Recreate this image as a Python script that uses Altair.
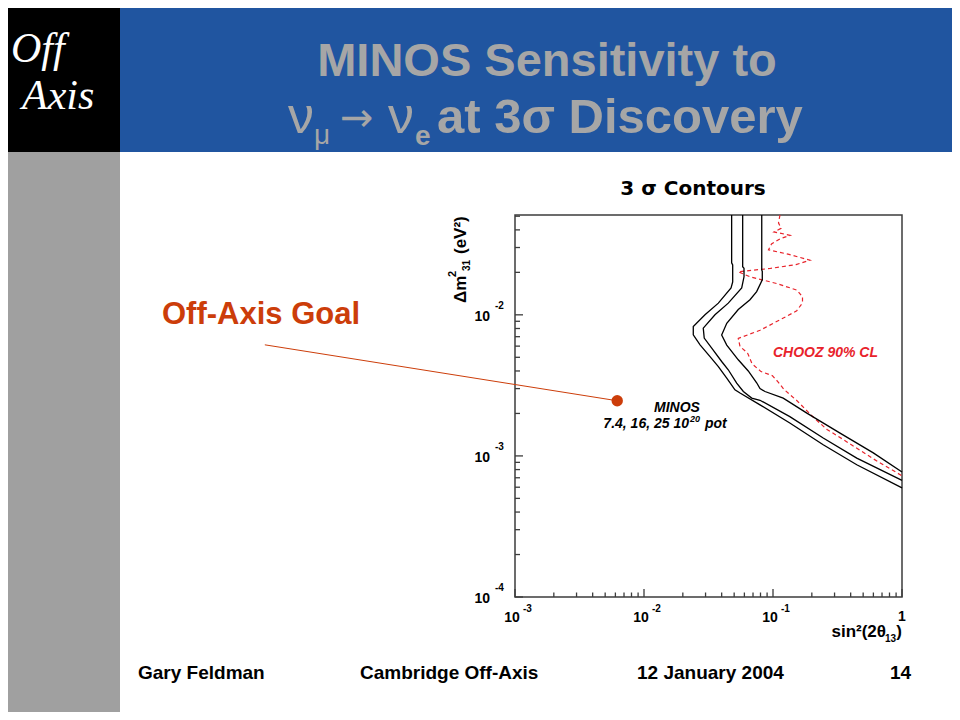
import altair as alt
import pandas as pd

# ---------------- data ----------------
# MINOS 3-sigma discovery contours: sin^2(2 theta13) vs dm^2_31 (eV^2)
c25_x = [0.0478, 0.0478, 0.0487, 0.0487, 0.0473, 0.0377, 0.0297, 0.0241, 0.0241, 0.0272,
         0.0325, 0.0377, 0.0438, 0.0507, 0.0555, 0.0793, 0.135, 0.245, 0.446, 1.0]
c25_y = [0.051, 0.0234, 0.0226, 0.0171, 0.0155, 0.0121, 0.0100, 0.00826, 0.00721, 0.00613,
         0.00506, 0.0043, 0.00356, 0.00294, 0.00279, 0.0023, 0.00171, 0.0012, 0.000865, 0.000594]

c16_x = [0.0582, 0.0582, 0.0596, 0.0596, 0.0572, 0.0450, 0.0355, 0.0288, 0.0293, 0.0335,
         0.0400, 0.0450, 0.0523, 0.0589, 0.0684, 0.0793, 0.135, 0.245, 0.446, 1.0]
c16_y = [0.051, 0.0219, 0.0214, 0.0186, 0.0155, 0.0121, 0.0100, 0.00805, 0.00684, 0.00581,
         0.00467, 0.00408, 0.00328, 0.00286, 0.00257, 0.00248, 0.0019, 0.00134, 0.000965, 0.00067]

c7_x = [0.0818, 0.0818, 0.0826, 0.0826, 0.0747, 0.0663, 0.0538, 0.0438, 0.0400, 0.0438,
        0.0538, 0.0643, 0.0747, 0.0793, 0.0867, 0.120, 0.183, 0.331, 0.599, 1.0]
c7_y = [0.051, 0.0208, 0.0203, 0.0177, 0.0146, 0.0128, 0.0109, 0.0087, 0.0072, 0.0061,
        0.0048, 0.0040, 0.0033, 0.0030, 0.00286, 0.00257, 0.00201, 0.00145, 0.00105, 0.00077]

# CHOOZ 90% CL (dashed red)
chooz_x = [0.1133, 0.1103, 0.1153, 0.1018, 0.1354, 0.1133, 0.0974, 0.0923, 0.1330, 0.1935,
           0.1508, 0.0948, 0.0538, 0.0663, 0.1068, 0.1535, 0.1693, 0.1693, 0.1527, 0.1133,
           0.0793, 0.0538, 0.0555, 0.0634, 0.0688, 0.0807, 0.0991, 0.1093, 0.1217, 0.1535,
           0.2078, 0.2622, 0.3488, 0.456, 0.599, 1.0]
chooz_y = [0.051, 0.0449, 0.0410, 0.0387, 0.0366, 0.0346, 0.0318, 0.0289, 0.0268, 0.0244,
           0.0227, 0.0213, 0.0202, 0.0186, 0.01667, 0.01496, 0.01342, 0.01216, 0.01067, 0.00922,
           0.00777, 0.00681, 0.00596, 0.00538, 0.0045, 0.00396, 0.0037, 0.00335, 0.00296, 0.00246,
           0.00186, 0.00154, 0.00131, 0.00112, 0.000954, 0.000723]

# Off-axis goal point and the start of its pointer line (outside the frame)
goal_x = [0.0062]
goal_y = [0.00246]
pointer_from_x = [1.15e-5]
pointer_from_y = [0.00613]

# axis ticks
x_major = [0.001, 0.01, 0.1, 1.0]
x_minor = [0.002, 0.003, 0.004, 0.005, 0.006, 0.007, 0.008, 0.009,
           0.02, 0.03, 0.04, 0.05, 0.06, 0.07, 0.08, 0.09,
           0.2, 0.3, 0.4, 0.5, 0.6, 0.7, 0.8, 0.9]
y_major = [0.0001, 0.001, 0.01]
y_minor = [0.0002, 0.0003, 0.0004, 0.0005, 0.0006, 0.0007, 0.0008, 0.0009,
           0.002, 0.003, 0.004, 0.005, 0.006, 0.007, 0.008, 0.009,
           0.02, 0.03, 0.04, 0.05]
x_dec_labels = [0.001, 0.01, 0.1]
x_dec_exps = ["-3", "-2", "-1"]
y_dec_labels = [0.0001, 0.001, 0.01]
y_dec_exps = ["-4", "-3", "-2"]

# ---------------- layout ----------------
W, H = 387, 382          # plot frame
X0, Y0 = 515, 215        # frame origin on the page
PAD = {"left": X0 - 8, "top": Y0 - 8, "right": 944 - (X0 - 8) - W, "bottom": 704 - (Y0 - 8) - H}

SANS = "Liberation Sans"
FRAME = "#3c3c3c"
BLUE = "#2055a0"
TITLE_GRAY = "#a6a6a6"
SIDE_GRAY = "#a0a0a0"
GOAL = "#cc3d0a"
RED = "#e8232b"

xs = alt.Scale(type="log", domain=[0.001, 1.0], nice=False)
ys = alt.Scale(type="log", domain=[0.0001, 0.051], nice=False)

one = pd.DataFrame({"k": [0]})


def rx(v):
    return v - X0


def ry(v):
    return v - Y0


def rect(x1, y1, x2, y2, color):
    return alt.Chart(one).mark_rect(color=color).encode(
        x=alt.value(rx(x1)), x2=alt.value(rx(x2)), y=alt.value(ry(y1)), y2=alt.value(ry(y2)))


def label(text, x, y, size, color="black", weight="bold", style="normal", font=SANS,
          align="left", angle=0, baseline="alphabetic"):
    kw = dict(text=text, fontSize=size, font=font, fontWeight=weight, fontStyle=style,
              color=color, align=align, baseline=baseline)
    if angle:
        kw["angle"] = angle
    return alt.Chart(one).mark_text(**kw).encode(x=alt.value(rx(x)), y=alt.value(ry(y)))


X = lambda f: alt.X(f, scale=xs, axis=None)
Y = lambda f: alt.Y(f, scale=ys, axis=None)

# ---------------- slide decoration ----------------
deco = [
    rect(0, 0, 120, 152, "black"),
    rect(120, 0, 960, 152, BLUE),
    rect(0, 152, 120, 720, SIDE_GRAY),
    label("Off", 11, 62, 42, color="white", weight="normal", style="italic", font="Liberation Serif"),
    label("Axis", 22, 109, 42, color="white", weight="normal", style="italic", font="Liberation Serif"),
    label("MINOS Sensitivity to", 547, 76, 47, color=TITLE_GRAY, align="center"),
    label("ν", 288, 133, 52, color=TITLE_GRAY, weight="normal"),
    label("μ", 314, 144, 28, color=TITLE_GRAY, weight="normal"),
    label("→", 340, 131, 40, color=TITLE_GRAY, weight="normal", font="DejaVu Sans"),
    label("ν", 388, 133, 52, color=TITLE_GRAY, weight="normal"),
    label("e", 415, 145, 28, color=TITLE_GRAY),
    label("at 3σ Discovery", 437, 133, 49, color=TITLE_GRAY),
    label("Off-Axis Goal", 162, 324, 31, color=GOAL),
    label("Gary Feldman", 138, 679, 19),
    label("Cambridge Off-Axis", 360, 679, 19),
    label("12 January 2004", 637, 679, 19),
    label("14", 890, 679, 19),
]

# ---------------- plot texts ----------------
texts = [
    label("3 σ Contours", 693, 195, 20, font="DejaVu Sans", align="center"),
    label("Δm", 466, 303, 17, angle=270),
    label("2", 456, 277, 11, angle=270),
    label("31", 470, 271, 10, angle=270),
    label("(eV²)", 466, 254, 17, angle=270),
    label("sin²(2θ", 886, 637, 17, align="right"),
    label("13", 896, 642, 10, align="right"),
    label(")", 902, 637, 17, align="right"),
    label("CHOOZ 90% CL", 773, 357, 14, color=RED, style="italic"),
    label("MINOS", 677, 412, 14, style="italic", align="center"),
    label("7.4, 16, 25 10", 689, 428, 14, style="italic", align="right"),
    label("20", 690, 422, 9, style="italic"),
    label("pot", 705, 428, 14, style="italic"),
]

# ---------------- data layers ----------------
rows = []
for name, xv, yv in [("25", c25_x, c25_y), ("16", c16_x, c16_y), ("7.4", c7_x, c7_y)]:
    for i, (a, b) in enumerate(zip(xv, yv)):
        rows.append({"x": a, "y": b, "series": name, "i": i})
df_minos = pd.DataFrame(rows)
df_chooz = pd.DataFrame({"x": chooz_x, "y": chooz_y, "i": list(range(len(chooz_x)))})

minos = alt.Chart(df_minos).mark_line(color="black", strokeWidth=1.3).encode(
    x=X("x:Q"), y=Y("y:Q"), detail="series:N", order=alt.Order("i:Q"))
chooz = alt.Chart(df_chooz).mark_line(color=RED, strokeWidth=1.2, strokeDash=[4, 3]).encode(
    x=X("x:Q"), y=Y("y:Q"), order=alt.Order("i:Q"))

df_ptr = pd.DataFrame({"x0": pointer_from_x, "y0": pointer_from_y, "x1": goal_x, "y1": goal_y})
pointer = alt.Chart(df_ptr).mark_rule(color=GOAL, strokeWidth=1).encode(
    x=X("x0:Q"), y=Y("y0:Q"), x2="x1:Q", y2="y1:Q")
goal = alt.Chart(pd.DataFrame({"x": goal_x, "y": goal_y})).mark_circle(
    color=GOAL, opacity=1, size=130).encode(x=X("x:Q"), y=Y("y:Q"))

# ticks (pointing inwards, ROOT style)
xt_major = alt.Chart(pd.DataFrame({"v": x_major})).mark_rule(color=FRAME, strokeWidth=1.3).encode(
    x=X("v:Q"), y=alt.value(H), y2=alt.value(H - 8))
xt_minor = alt.Chart(pd.DataFrame({"v": x_minor})).mark_rule(color=FRAME, strokeWidth=1.3).encode(
    x=X("v:Q"), y=alt.value(H), y2=alt.value(H - 4.5))
yt_major = alt.Chart(pd.DataFrame({"v": y_major})).mark_rule(color=FRAME, strokeWidth=1.3).encode(
    y=Y("v:Q"), x=alt.value(0), x2=alt.value(8))
yt_minor = alt.Chart(pd.DataFrame({"v": y_minor})).mark_rule(color=FRAME, strokeWidth=1.3).encode(
    y=Y("v:Q"), x=alt.value(0), x2=alt.value(5))

lab_kw = dict(font=SANS, fontWeight="bold", color="black")
xl_base = alt.Chart(pd.DataFrame({"v": x_dec_labels})).mark_text(
    text="10", fontSize=14, align="center", baseline="alphabetic", dx=-3, **lab_kw).encode(
    x=X("v:Q"), y=alt.value(H + 25))
xl_one = alt.Chart(pd.DataFrame({"v": [1.0]})).mark_text(
    text="1", fontSize=14, align="center", baseline="alphabetic", **lab_kw).encode(
    x=X("v:Q"), y=alt.value(H + 24))
xl_exp = alt.Chart(pd.DataFrame({"v": x_dec_labels, "e": x_dec_exps})).mark_text(
    fontSize=10, align="left", baseline="alphabetic", dx=8, **lab_kw).encode(
    x=X("v:Q"), y=alt.value(H + 15), text="e:N")
yl_base = alt.Chart(pd.DataFrame({"v": y_dec_labels})).mark_text(
    text="10", fontSize=14, align="right", baseline="middle", dy=2, **lab_kw).encode(
    y=Y("v:Q"), x=alt.value(-25))
yl_exp = alt.Chart(pd.DataFrame({"v": y_dec_labels, "e": y_dec_exps})).mark_text(
    fontSize=10, align="left", baseline="middle", dy=-9, **lab_kw).encode(
    y=Y("v:Q"), x=alt.value(-20), text="e:N")

chart = alt.layer(
    *deco,
    xt_major, xt_minor, yt_major, yt_minor,
    xl_base, xl_one, xl_exp, yl_base, yl_exp,
    chooz, minos, pointer, goal,
    *texts,
).properties(
    width=W, height=H,
    autosize=alt.AutoSizeParams(type="none"),
    padding=PAD,
    background="white",
).configure_view(stroke=FRAME, strokeWidth=1.5)

chart.save("out.html", embed_options={"renderer": "svg", "actions": False})
